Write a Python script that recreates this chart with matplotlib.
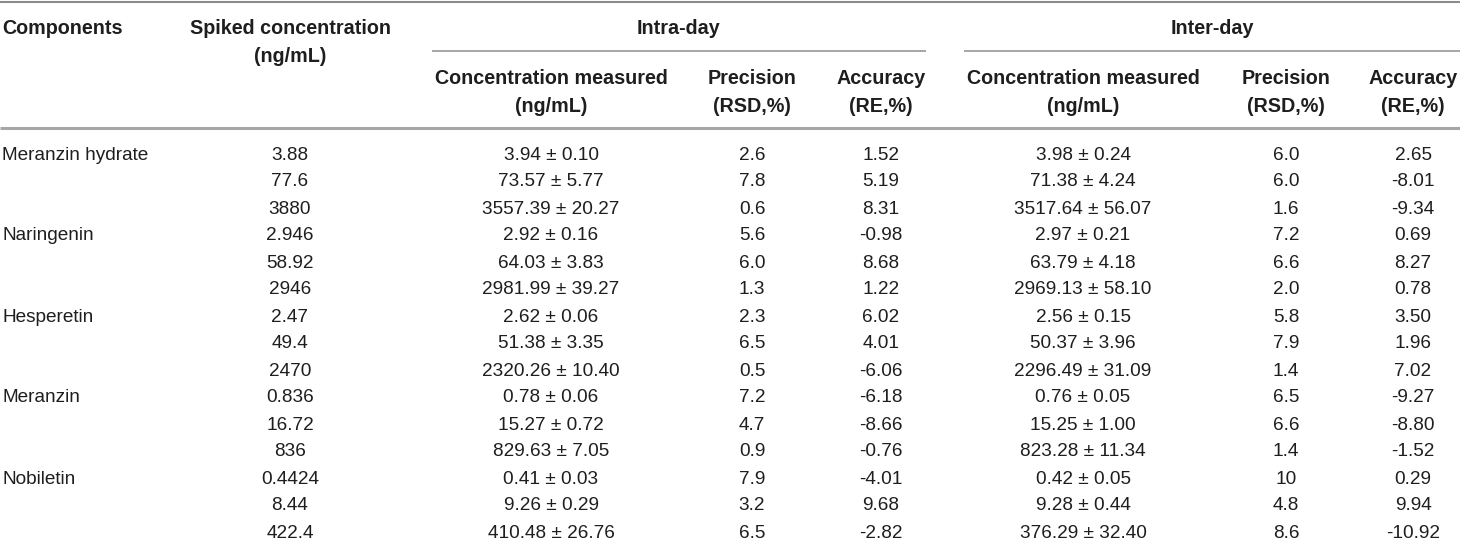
import matplotlib
matplotlib.use("Agg")
import matplotlib.pyplot as plt

# table data
components = ["Meranzin hydrate", "Naringenin", "Hesperetin", "Meranzin", "Nobiletin"]
spiked = ["3.88", "77.6", "3880",
          "2.946", "58.92", "2946",
          "2.47", "49.4", "2470",
          "0.836", "16.72", "836",
          "0.4424", "8.44", "422.4"]
intra_conc = ["3.94 ± 0.10", "73.57 ± 5.77", "3557.39 ± 20.27",
              "2.92 ± 0.16", "64.03 ± 3.83", "2981.99 ± 39.27",
              "2.62 ± 0.06", "51.38 ± 3.35", "2320.26 ± 10.40",
              "0.78 ± 0.06", "15.27 ± 0.72", "829.63 ± 7.05",
              "0.41 ± 0.03", "9.26 ± 0.29", "410.48 ± 26.76"]
intra_rsd = ["2.6", "7.8", "0.6", "5.6", "6.0", "1.3", "2.3", "6.5", "0.5",
             "7.2", "4.7", "0.9", "7.9", "3.2", "6.5"]
intra_re = ["1.52", "5.19", "8.31", "-0.98", "8.68", "1.22", "6.02", "4.01", "-6.06",
            "-6.18", "-8.66", "-0.76", "-4.01", "9.68", "-2.82"]
inter_conc = ["3.98 ± 0.24", "71.38 ± 4.24", "3517.64 ± 56.07",
              "2.97 ± 0.21", "63.79 ± 4.18", "2969.13 ± 58.10",
              "2.56 ± 0.15", "50.37 ± 3.96", "2296.49 ± 31.09",
              "0.76 ± 0.05", "15.25 ± 1.00", "823.28 ± 11.34",
              "0.42 ± 0.05", "9.28 ± 0.44", "376.29 ± 32.40"]
inter_rsd = ["6.0", "6.0", "1.6", "7.2", "6.6", "2.0", "5.8", "7.9", "1.4",
             "6.5", "6.6", "1.4", "10", "4.8", "8.6"]
inter_re = ["2.65", "-8.01", "-9.34", "0.69", "8.27", "0.78", "3.50", "1.96", "7.02",
            "-9.27", "-8.80", "-1.52", "0.29", "9.94", "-10.92"]

groups = ["Intra-day", "Inter-day"]
sub_top = ["Concentration measured", "Precision", "Accuracy"] * 2
sub_bot = ["(ng/mL)", "(RSD,%)", "(RE,%)"] * 2

plt.rcParams['font.family'] = ['Liberation Sans', 'DejaVu Sans']

W, H = 1460, 545
fig = plt.figure(figsize=(W / 100, H / 100), dpi=100)
ax = fig.add_axes([0, 0, 1, 1])
ax.set_xlim(0, W)
ax.set_ylim(H, 0)
ax.axis("off")

txt = "#1e1e1e"
line_c = "#a6a6a6"
fs_h = 14.2   # header (bold)
fs_b = 13.7   # body
off = 6.5     # baseline offset from visual centre

# rules
ax.plot([0, W], [1.5, 1.5], color="#8c8c8c", lw=1.5, solid_capstyle="butt")
ax.plot([432, 926], [51, 51], color=line_c, lw=1.4, solid_capstyle="butt")
ax.plot([964, W], [51, 51], color=line_c, lw=1.4, solid_capstyle="butt")
ax.plot([0, W], [127.5, 127.5], color=line_c, lw=2.2, solid_capstyle="butt")

hd = dict(fontsize=fs_h, fontweight="bold", color=txt, va="baseline")
ax.text(2, 27 + off, "Components", ha="left", **hd)
ax.text(290, 27 + off, "Spiked concentration", ha="center", **hd)
ax.text(290, 55 + off, "(ng/mL)", ha="center", **hd)
ax.text(679, 27 + off, groups[0], ha="center", **hd)
ax.text(1212, 27 + off, groups[1], ha="center", **hd)

col_x = [551, 752, 881, 1083, 1286, 1413]
for x, a, b in zip(col_x, sub_top, sub_bot):
    ax.text(x, 77 + off, a, ha="center", **hd)
    ax.text(x, 105 + off, b, ha="center", **hd)

y0, dy = 153, 27.0
bd = dict(fontsize=fs_b, color=txt, va="baseline", ha="center")
cols = [spiked, intra_conc, intra_rsd, intra_re, inter_conc, inter_rsd, inter_re]
xs = [290] + col_x
for i in range(len(spiked)):
    y = y0 + i * dy + off
    if i % 3 == 0:
        ax.text(2, y, components[i // 3], fontsize=fs_b, color=txt, va="baseline", ha="left")
    for x, col in zip(xs, cols):
        ax.text(x, y, col[i], **bd)

fig.savefig("out.png", dpi=100)
